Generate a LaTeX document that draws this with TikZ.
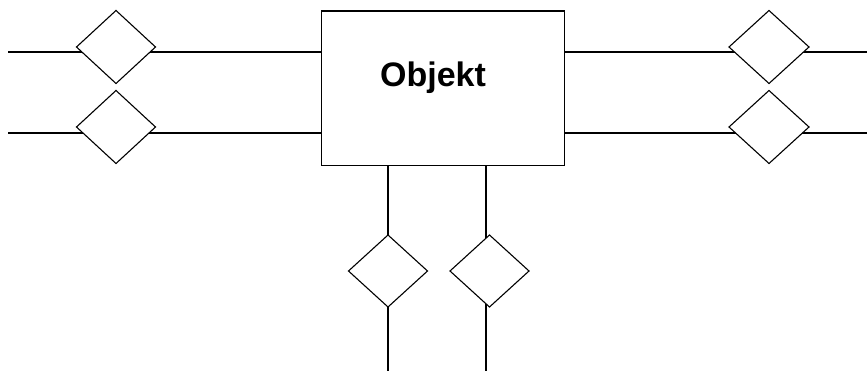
\documentclass[tikz,border=0pt]{standalone}
\usepackage{fontspec}
\setmainfont{Liberation Sans}
\usetikzlibrary{shapes.geometric}

\tikzset{
    gate/.style={draw, shape=diamond, fill=white, inner sep=0pt, outer sep=0pt,
        minimum width=79pt, minimum height=73pt},
    objbox/.style={draw, rectangle, inner sep=0pt, outer sep=0pt,
        minimum width=243pt, minimum height=154.5pt},
}

\begin{document}
\begin{tikzpicture}[x=1pt, y=-1pt, line width=1.1pt]
    \useasboundingbox (0,0) rectangle (867,371);

    % Object box
    \node[objbox] (obj) at (443,88.25) {};
    \node[anchor=base, font=\fontsize{34}{40}\selectfont\bfseries] (title)
        at (433,87) {Objekt};

    % Left and right ports
    \foreach \n/\y in {1/52, 2/133}{
        \coordinate (l\n) at (8,\y);
        \coordinate (r\n) at (867,\y);
        \draw (l\n) -- (l\n -| obj.west);
        \draw (obj.east |- r\n) -- (r\n);
    }

    % Bottom ports
    \foreach \n/\x in {1/388, 2/486}{
        \coordinate (b\n) at (\x,371);
        \draw (b\n |- obj.south) -- (b\n);
    }

    % Diamonds
    \node[gate] (gl1) at (116,47) {};
    \node[gate] (gl2) at (116,127) {};
    \node[gate, minimum width=80pt] (gr1) at (769,47) {};
    \node[gate, minimum width=80pt] (gr2) at (769,127) {};
    \node[gate, minimum height=72pt] (gb1) at (388,271) {};
    \node[gate, minimum height=72pt] (gb2) at (489.5,271) {};

\end{tikzpicture}
\end{document}
